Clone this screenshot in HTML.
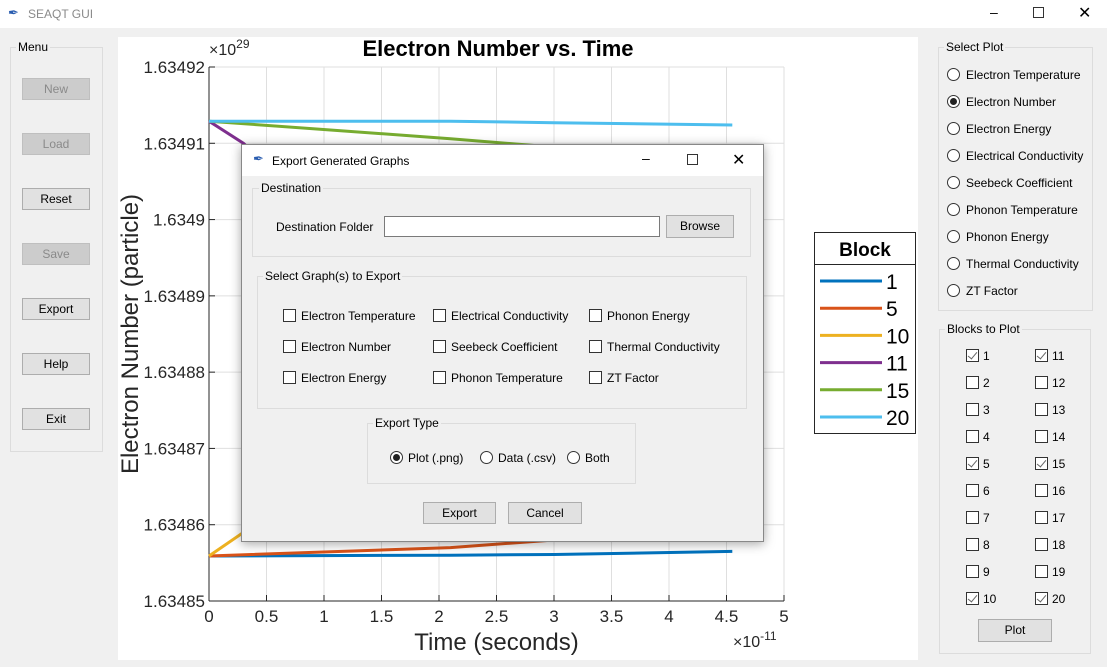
<!DOCTYPE html>
<html><head><meta charset="utf-8">
<style>
*{box-sizing:border-box}
body{margin:0;width:1107px;height:667px;background:#f0f0f0;font-family:"Liberation Sans",sans-serif;font-size:12px;color:#000;position:relative;overflow:hidden}
.abs{position:absolute}
.frame{position:absolute;border:1px solid #dcdcdc}
.legend-t{position:absolute;background:#f0f0f0;padding:0 2px;font-size:12px;top:-8px;left:5px}
.btn{position:absolute;background:#e1e1e1;border:1px solid #adadad;text-align:center;line-height:20px;font-size:12px}
.dis{color:#8a8a8a;background:#cccccc;border-color:#bfbfbf}
.radio{position:absolute;width:13px;height:13px;border:1px solid #333;border-radius:50%;background:#fff}
.radio.on::after{content:"";position:absolute;left:2px;top:2px;width:7px;height:7px;border-radius:50%;background:#222}
.cb{position:absolute;width:13px;height:13px;border:1px solid #333;background:#fff}
.cb.on::after{content:"";position:absolute;left:3px;top:0px;width:4px;height:8px;border-right:1.5px solid #666;border-bottom:1.5px solid #666;transform:rotate(40deg)}
.lbl{position:absolute;white-space:nowrap;font-size:12px}
</style></head><body>
<div class="abs" style="left:0;top:0;width:1107px;height:28px;background:#fff">
  <span class="abs" style="left:8px;top:5px;font-size:13px;color:#2a5db0">&#x2712;</span>
  <span class="abs" style="left:28px;top:7px;color:#8a8a8a;font-size:12px">SEAQT GUI</span>
  <span class="abs" style="left:990px;top:4px;font-size:14px">&#x2013;</span>
  <span class="abs" style="left:1033px;top:7px;width:11px;height:11px;border:1px solid #333"></span>
  <span class="abs" style="left:1078px;top:3px;font-size:16px">&#x2715;</span>
</div>

<div class="frame" style="left:10px;top:47px;width:93px;height:405px"><span class="legend-t">Menu</span></div>
<div class="btn dis" style="left:22px;top:78px;width:68px;height:22px">New</div>
<div class="btn dis" style="left:22px;top:133px;width:68px;height:22px">Load</div>
<div class="btn" style="left:22px;top:188px;width:68px;height:22px">Reset</div>
<div class="btn dis" style="left:22px;top:243px;width:68px;height:22px">Save</div>
<div class="btn" style="left:22px;top:298px;width:68px;height:22px">Export</div>
<div class="btn" style="left:22px;top:353px;width:68px;height:22px">Help</div>
<div class="btn" style="left:22px;top:408px;width:68px;height:22px">Exit</div>

<svg class="abs" id="chart" style="left:118px;top:37px" width="800" height="623"></svg>

<div class="frame" style="left:938px;top:47px;width:155px;height:264px"><span class="legend-t">Select Plot</span></div>
<div id="plots"></div>
<div class="frame" style="left:939px;top:329px;width:152px;height:325px"><span class="legend-t">Blocks to Plot</span></div>
<div id="blocks"></div>
<div class="btn" style="left:978px;top:619px;width:74px;height:23px">Plot</div>

<div class="abs" style="left:241px;top:144px;width:523px;height:398px;background:#f0f0f0;border:1px solid #888;box-shadow:0 2px 10px rgba(0,0,0,.35)">
  <div class="abs" style="left:0;top:0;width:521px;height:31px;background:#fff">
    <span class="abs" style="left:11px;top:6px;font-size:13px;color:#2a5db0">&#x2712;</span>
    <span class="abs" style="left:30px;top:9px">Export Generated Graphs</span>
    <span class="abs" style="left:400px;top:5px;font-size:14px">&#x2013;</span>
    <span class="abs" style="left:445px;top:9px;width:11px;height:11px;border:1px solid #333"></span>
    <span class="abs" style="left:490px;top:5px;font-size:16px">&#x2715;</span>
  </div>
</div>
<div class="frame" style="left:252px;top:188px;width:499px;height:69px"><span class="legend-t" style="left:6px">Destination</span></div>
<span class="lbl" style="left:276px;top:220px">Destination Folder</span>
<div class="abs" style="left:384px;top:216px;width:276px;height:21px;background:#fff;border:1px solid #7a7a7a"></div>
<div class="btn" style="left:666px;top:215px;width:68px;height:23px">Browse</div>
<div class="frame" style="left:257px;top:276px;width:490px;height:133px"><span class="legend-t">Select Graph(s) to Export</span></div>
<div id="graphs"></div>
<div class="frame" style="left:367px;top:423px;width:269px;height:61px"><span class="legend-t">Export Type</span></div>
<div class="radio on" style="left:390px;top:451px"></div><span class="lbl" style="left:408px;top:451px">Plot (.png)</span>
<div class="radio" style="left:480px;top:451px"></div><span class="lbl" style="left:498px;top:451px">Data (.csv)</span>
<div class="radio" style="left:567px;top:451px"></div><span class="lbl" style="left:585px;top:451px">Both</span>
<div class="btn" style="left:423px;top:502px;width:73px;height:22px">Export</div>
<div class="btn" style="left:508px;top:502px;width:74px;height:22px">Cancel</div>

<script>
const NS="http://www.w3.org/2000/svg";
const xTicks=[0,0.5,1,1.5,2,2.5,3,3.5,4,4.5,5];
const xTickLabels=["0","0.5","1","1.5","2","2.5","3","3.5","4","4.5","5"];
const yTicks=[1.63485,1.63486,1.63487,1.63488,1.63489,1.6349,1.63491,1.63492];
const yTickLabels=["1.63485","1.63486","1.63487","1.63488","1.63489","1.6349","1.63491","1.63492"];
const seriesNames=["1","5","10","11","15","20"];
const seriesColors=["#0072bd","#d95319","#edb120","#7e2f8e","#77ac30","#4dbeee"];
const tX=[0,2.1,3,4.55];
const s1=[1.6348559,1.634856,1.6348561,1.6348565];
const s5=[1.6348559,1.634857,1.634858,1.634859];
const tX10=[0,0.3,1,4.55];
const s10=[1.6348559,1.634859,1.63487,1.63489];
const tX11=[0,0.3,1,4.55];
const s11=[1.6349129,1.634910,1.634900,1.63488];
const s15=[1.6349129,1.6349106,1.6349095,1.634908];
const s20=[1.6349129,1.6349129,1.6349127,1.6349124];
const svg=document.getElementById('chart');
const L=91,R=666,T=30,B=564;
const xs=v=>L+(v-0)/(5-0)*(R-L);
const ys=v=>B-(v-1.63485)/(1.63492-1.63485)*(B-T);
function mk(tag,a){const e=document.createElementNS(NS,tag);for(const k in a)e.setAttribute(k,a[k]);svg.appendChild(e);return e;}
let bg=mk('rect',{x:0,y:0,width:800,height:623,fill:'#fff'});


let pa=mk('rect',{x:L,y:T,width:R-L,height:B-T,fill:'#fff',stroke:'none'});
xTicks.forEach((v,i)=>{
 const g=mk('line',{x1:xs(v),x2:xs(v),y1:T,y2:B,stroke:'#dfdfdf','stroke-width':1});
 
 
 mk('line',{x1:xs(v),x2:xs(v),y1:B,y2:B-6,stroke:'#262626'});
 const t=mk('text',{x:xs(v),y:B+21,'text-anchor':'middle','font-size':17,fill:'#262626','font-family':'Liberation Sans'});
 t.textContent=xTickLabels[i];
 
 
});
yTicks.forEach((v,i)=>{
 const g=mk('line',{x1:L,x2:R,y1:ys(v),y2:ys(v),stroke:'#dfdfdf','stroke-width':1});
 
 
 mk('line',{x1:L,x2:L+6,y1:ys(v),y2:ys(v),stroke:'#262626'});
 const t=mk('text',{x:L-4,y:ys(v)+6,'text-anchor':'end','font-size':17,fill:'#262626','font-family':'Liberation Sans'});
 t.textContent=yTickLabels[i];
 
 
});
mk('line',{x1:L,x2:R,y1:B,y2:B,stroke:'#262626'});
mk('line',{x1:L,x2:L,y1:T,y2:B,stroke:'#262626'});
const dataSets=[[tX,s1],[tX,s5],[tX10,s10],[tX11,s11],[tX,s15],[tX,s20]];
dataSets.forEach((d,i)=>{
 const p=d[0].map((x,j)=>xs(x).toFixed(1)+','+ys(d[1][j]).toFixed(1)).join(' ');
 const pl=mk('polyline',{points:p,fill:'none',stroke:seriesColors[i],'stroke-width':3});
 
 
});
let tt=mk('text',{x:380,y:19,'text-anchor':'middle','font-size':22,'font-weight':'bold',fill:'#000','font-family':'Liberation Sans'});
tt.textContent='Electron Number vs. Time';


let ex=mk('text',{x:L,y:T-12,'font-size':16,fill:'#262626','font-family':'Liberation Sans'});
ex.innerHTML='×10<tspan dy="-7" font-size="12">29</tspan>';


let ex2=mk('text',{x:615,y:610,'font-size':16,fill:'#262626','font-family':'Liberation Sans'});
ex2.innerHTML='×10<tspan dy="-7" font-size="12">-11</tspan>';


let xl=mk('text',{x:(L+R)/2,y:613,'text-anchor':'middle','font-size':24,fill:'#262626','font-family':'Liberation Sans'});
xl.textContent='Time (seconds)';


let yl=mk('text',{x:0,y:0,'text-anchor':'middle','font-size':24,fill:'#262626','font-family':'Liberation Sans',transform:'translate(20,'+((T+B)/2)+') rotate(-90)'});
yl.textContent='Electron Number (particle)';


// legend
let lg=mk('rect',{x:696.5,y:195.5,width:101,height:201,fill:'#fff',stroke:'#262626'});


mk('line',{x1:697,x2:797,y1:227.5,y2:227.5,stroke:'#262626'});
let lt=mk('text',{x:747,y:219,'text-anchor':'middle','font-size':19,'font-weight':'bold',fill:'#000','font-family':'Liberation Sans'});
lt.textContent='Block';


seriesNames.forEach((n,i)=>{
 const y=244+i*27.2;
 const ln=mk('line',{x1:702,x2:764,y1:y,y2:y,stroke:seriesColors[i],'stroke-width':3});
 
 
 const t=mk('text',{x:768,y:y+8,'font-size':21,fill:'#000','font-family':'Liberation Sans'});
 t.textContent=n;
 
 
});
// right panel
const plotOpts=["Electron Temperature","Electron Number","Electron Energy","Electrical Conductivity","Seebeck Coefficient","Phonon Temperature","Phonon Energy","Thermal Conductivity","ZT Factor"];
let h='';
plotOpts.forEach((o,i)=>{const y=68+i*27;
 h+=`<div class="radio${i==1?' on':''}" style="left:947px;top:${y}px"></div><span class="lbl" style="left:966px;top:${y}px">${o}</span>`;});
document.getElementById('plots').innerHTML=h;
const checked=[1,5,10,11,15,20];
h='';
for(let i=0;i<10;i++){[i+1,i+11].forEach((n,c)=>{const x=c?1035:966,y=349+i*27;
 h+=`<div class="cb${checked.includes(n)?' on':''}" style="left:${x}px;top:${y}px"></div><span class="lbl" style="left:${x+17}px;top:${y}px">${n}</span>`;});}
document.getElementById('blocks').innerHTML=h;
const graphs=[["Electron Temperature","Electrical Conductivity","Phonon Energy"],["Electron Number","Seebeck Coefficient","Thermal Conductivity"],["Electron Energy","Phonon Temperature","ZT Factor"]];
const gx=[283,433,589];
h='';
graphs.forEach((row,r)=>row.forEach((g,c)=>{const y=309+r*31;
 h+=`<div class="cb" style="left:${gx[c]}px;top:${y}px"></div><span class="lbl" style="left:${gx[c]+18}px;top:${y}px">${g}</span>`;}));
document.getElementById('graphs').innerHTML=h;
</script>
</body></html>
